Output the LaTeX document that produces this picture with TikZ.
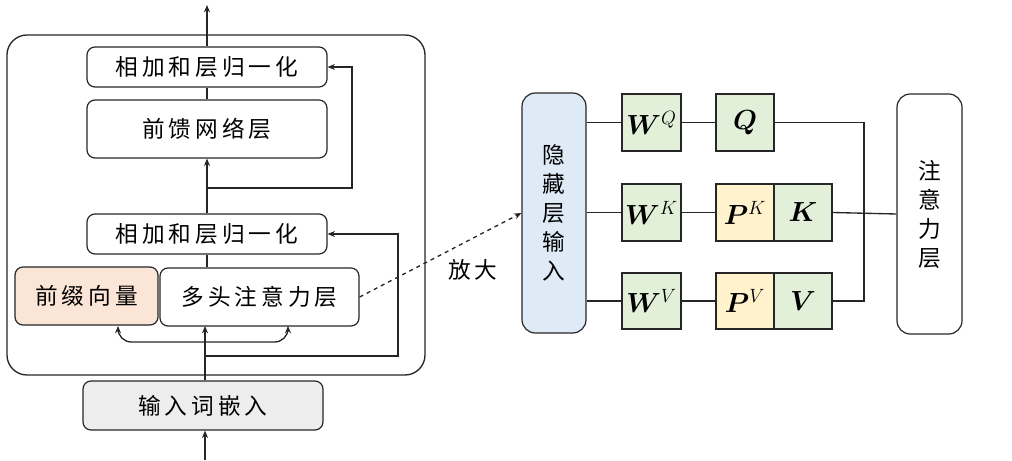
\documentclass[tikz,border=0pt]{standalone}
\usepackage{fontspec}
\usepackage{amsmath,bm}
\newfontfamily\cjk{Noto Sans CJK SC}
\usetikzlibrary{arrows.meta,calc}
\makeatletter
\newcommand\spaced[1]{\@tfor\ch:=#1\do{\ch\kern3pt}\kern-3pt}
\makeatother
\definecolor{peach}{HTML}{FBE5D6}
\definecolor{ingray}{HTML}{EDEDED}
\definecolor{hblue}{HTML}{DEEBF7}
\definecolor{wgreen}{HTML}{E2F0D9}
\definecolor{pyellow}{HTML}{FFF2CC}
\tikzset{
  box/.style={draw=black!85, line width=0.9pt, rounded corners=6pt, inner sep=0pt,
    font=\cjk\fontsize{17}{20}\selectfont},
  vbox/.style={box, rounded corners=10pt, align=center, font=\cjk\fontsize{17}{21.75}\selectfont},
  sq/.style={draw=black!85, line width=0.9pt, inner sep=0pt, minimum width=44.25pt,
    minimum height=42.75pt, fill=wgreen, font=\fontsize{20}{24}\selectfont},
  ln/.style={line width=1pt, black!85},
  arr/.style={ln, -{Stealth[length=5.5pt,width=4.5pt]}},
}
\begin{document}
\begin{tikzpicture}[x=0.75pt, y=-0.75pt]
\useasboundingbox (0,0) rectangle (1012,460);
% outer frame
\draw[line width=1pt, black!85, rounded corners=15pt] (7,35) rectangle (425,375);
% left nodes
\node[box, minimum width=180pt, minimum height=30pt] (add2) at (207,67) {\spaced{相加和层归一化}};
\node[box, minimum width=180pt, minimum height=43.5pt] (ffn) at (207,129) {\spaced{前馈网络层}};
\node[box, minimum width=180pt, minimum height=30pt] (add1) at (207,234) {\spaced{相加和层归一化}};
\node[box, fill=peach, minimum width=107.25pt, minimum height=43.5pt] (prefix) at (86.5,296) {\spaced{前缀向量}};
\node[box, minimum width=149.25pt, minimum height=43.5pt] (mha) at (259.5,297) {\spaced{多头注意力层}};
\node[box, fill=ingray, minimum width=180pt, minimum height=36.75pt] (input) at (203,405.5) {\spaced{输入词嵌入}};
% coordinates
\coordinate (out) at (207,5);
\coordinate (r1) at (207,188);
\coordinate (r1a) at (352,188);
\coordinate (r1b) at (352,67);
\coordinate (inbot) at (205,460);
\coordinate (b0) at (205,342);
\coordinate (bl) at (118,342);
\coordinate (bl2) at (118,326);
\coordinate (br) at (288,342);
\coordinate (br2) at (288,326);
\coordinate (mhain) at (205,326);
\coordinate (r2) at (205,356);
\coordinate (r2a) at (398,356);
\coordinate (r2b) at (398,234);
% left connectors
\draw[arr] (add2.north) -- (out);
\draw[ln] (add2.south) -- (ffn.north);
\draw[arr] (add1.north) -- (ffn.south);
\draw[arr] (r1) -- (r1a) -- (r1b) -- (add2.east);
\draw[ln] (add1.south) -- (add1.south |- mha.north);
\draw[arr] (input.north -| mhain) -- (mhain);
\draw[arr, rounded corners=10pt] (b0) -- (bl) -- (bl2);
\draw[arr, rounded corners=10pt] (b0) -- (br) -- (br2);
\draw[arr] (r2) -- (r2a) -- (r2b) -- (add1.east);
\draw[arr] (inbot) -- (inbot |- input.south);
% right nodes
\node[vbox, fill=hblue, minimum width=48pt, minimum height=180pt] (hidden) at (554,213) {隐\\藏\\层\\输\\入};
\node[sq] (wq) at (651.5,122.5) {$\bm{W}^{Q}$};
\node[sq, minimum width=43.5pt] (q) at (745,122.5) {$\bm{Q}$};
\node[sq] (wk) at (651.5,212.5) {$\bm{W}^{K}$};
\node[sq, fill=pyellow, minimum width=43.5pt] (pk) at (745,212.5) {$\bm{P}^{K}$};
\node[sq, minimum width=43.5pt] (k) at (803,212.5) {$\bm{K}$};
\node[sq, minimum height=42pt] (wv) at (651.5,301) {$\bm{W}^{V}$};
\node[sq, fill=pyellow, minimum width=43.5pt, minimum height=42pt] (pv) at (745,301) {$\bm{P}^{V}$};
\node[sq, minimum width=43.5pt, minimum height=42pt] (v) at (803,301) {$\bm{V}$};
\node[vbox, minimum width=48.75pt, minimum height=180pt] (attn) at (929.5,214) {注\\意\\力\\层};
\node[font=\cjk\fontsize{17}{20}\selectfont] (zoomlbl) at (473,270) {\spaced{放大}};
% dashed link
\draw[arr, dashed] (mha.east) -- (hidden.west);
% right connectors
\coordinate (qa) at (864,122.5);
\coordinate (qb) at (864,301);
\draw[ln] (hidden.east |- wq.west) -- (wq.west);
\draw[ln] (hidden.east |- wk.west) -- (wk.west);
\draw[ln] (hidden.east |- wv.west) -- (wv.west);
\draw[ln] (wq.east) -- (q.west);
\draw[ln] (wk.east) -- (pk.west);
\draw[ln] (wv.east) -- (pv.west);
\draw[ln] (q.east) -- (qa) -- (qb) -- (v.east);
\draw[ln] (k.east) -- (attn.west);
\end{tikzpicture}
\end{document}
